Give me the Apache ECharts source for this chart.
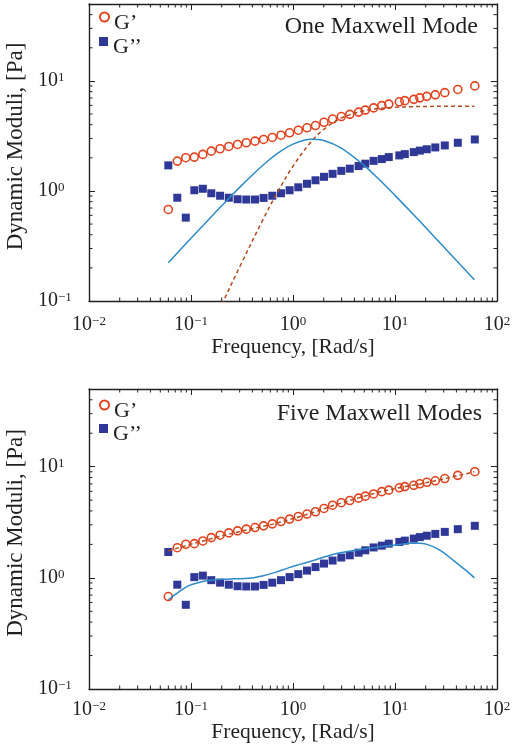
<!DOCTYPE html>
<html>
<head>
<meta charset="utf-8">
<script src="https://cdn.jsdelivr.net/npm/echarts@6/dist/echarts.min.js"></script>
<style>
  html, body { margin: 0; padding: 0; background: #ffffff; }
  #chart { width: 525px; height: 747px; }
</style>
</head>
<body>
<div id="chart"></div>
<script>
// Oscillatory frequency sweep, angular frequency in rad/s
const freq = [0.0599, 0.0734, 0.0889, 0.1078, 0.1306, 0.1581, 0.1929, 0.2348, 0.2863, 0.3485,
  0.4242, 0.515, 0.6266, 0.7629, 0.9262, 1.127, 1.372, 1.662, 2.013, 2.444,
  2.975, 3.605, 4.397, 5.114, 6.17, 7.42, 8.69, 11.02, 12.48, 15.29,
  17.51, 20.5, 24.84, 30.77, 41.28, 60.6];

// Storage modulus G' [Pa]
const storageModulus = [0.679, 1.868, 2.006, 2.031, 2.148, 2.301, 2.419, 2.538, 2.646, 2.742,
  2.835, 2.937, 3.062, 3.212, 3.377, 3.565, 3.748, 3.932, 4.211, 4.502,
  4.743, 4.966, 5.210, 5.431, 5.685, 5.965, 6.154, 6.457, 6.620, 6.801,
  7.017, 7.240, 7.470, 7.820, 8.360, 9.012];

// Loss modulus G'' [Pa]
const lossModulus = [1.708, 0.868, 0.572, 1.015, 1.047, 0.953, 0.905, 0.868, 0.841, 0.836,
  0.836, 0.864, 0.905, 0.953, 1.015, 1.080, 1.162, 1.250, 1.344, 1.431,
  1.523, 1.595, 1.684, 1.770, 1.877, 1.948, 2.031, 2.104, 2.162, 2.254,
  2.326, 2.394, 2.486, 2.592, 2.742, 2.937];

// Single Maxwell mode fit
const oneModeFreq = [0.06, 0.1, 0.15, 0.2, 0.3, 0.5, 0.7, 1, 1.5, 2, 3, 5, 7, 10, 15, 20, 30, 40, 60];
const oneModeGp = [0.0085, 0.0234, 0.0524, 0.0925, 0.204, 0.534, 0.963, 1.680, 2.788, 3.624,
  4.613, 5.361, 5.612, 5.755, 5.835, 5.863, 5.884, 5.891, 5.896];
const oneModeGpp = [0.223, 0.371, 0.554, 0.733, 1.078, 1.693, 2.181, 2.663, 2.946, 2.872,
  2.437, 1.699, 1.271, 0.912, 0.617, 0.465, 0.311, 0.233, 0.156];

// Five Maxwell mode fit
const fiveModeFreq = [0.06, 0.075, 0.095, 0.12, 0.15, 0.2, 0.27, 0.37, 0.5, 0.67, 0.9, 1.22, 1.65,
  2.07, 2.9, 4.6, 7.2, 11.3, 14, 17.7, 22, 28, 37.6, 50, 60];
const fiveModeGp = [1.75, 1.86, 1.98, 2.1, 2.22, 2.38, 2.55, 2.72, 2.9, 3.08, 3.32, 3.6, 3.93,
  4.22, 4.68, 5.3, 5.95, 6.5, 6.75, 7.0, 7.3, 7.65, 8.15, 8.65, 9.0];
const fiveModeGpp = [0.635, 0.74, 0.85, 0.91, 0.945, 0.97, 0.98, 0.99, 1.04, 1.12, 1.23, 1.335, 1.45,
  1.55, 1.68, 1.8, 1.9, 2.0, 2.05, 2.05, 1.96, 1.76, 1.43, 1.16, 1.0];

const panelTitles = ['One Maxwell Mode', 'Five Maxwell Modes'];
const seriesNames = ['G\u2019', 'G\u2019\u2019'];
const xAxisTitle = 'Frequency, [Rad/s]';
const yAxisTitle = 'Dynamic Moduli, [Pa]';

const FONT = "'Liberation Serif', 'Times New Roman', serif";
const INK = '#231f20';
const RED = '#e2431e';
const NAVY = '#2f3896';
const BLUE = '#2d8bc9';
const BROWN = '#b04b1f';

const X_MIN = 0.01, X_MAX = 100, Y_MIN = 0.1, Y_MAX = 50;

const zip = (xs, ys) => xs.map((x, i) => [x, ys[i]]);

// Powers of ten drawn as 10 with a raised exponent
function powLabel(v) {
  const e = Math.log10(v);
  const r = Math.round(e);
  if (Math.abs(e - r) > 1e-6) return '';
  return '{b|10}{s|' + (r < 0 ? '\u2212' + (-r) : String(r)) + '}';
}
const labelRich = {
  b: { fontFamily: FONT, fontSize: 20, color: INK, lineHeight: 20 },
  s: { fontFamily: FONT, fontSize: 13, color: INK, lineHeight: 11, verticalAlign: 'top' }
};

// Minor tick positions at 2..9 of each decade
const xMinor = [];
for (let d = -2; d < 2; d++) for (let k = 2; k <= 9; k++) xMinor.push(+(k * Math.pow(10, d)).toPrecision(3));
const yMinor = [];
for (let d = -1; d < 2; d++) for (let k = 2; k <= 9; k++) {
  const v = +(k * Math.pow(10, d)).toPrecision(3);
  if (v < Y_MAX) yMinor.push(v);
}

const panels = [
  { grid: { left: 89, top: 4, width: 408, height: 297 }, labelMargin: 14, nameGap: 35,
    fitFreq: oneModeFreq, fitGp: oneModeGp, fitGpp: oneModeGpp,
    title: { right: 47, top: 15 }, legendTops: [0, 24.5] },
  { grid: { left: 89, top: 389, width: 408, height: 300 }, labelMargin: 11, nameGap: 31,
    fitFreq: fiveModeFreq, fitGp: fiveModeGp, fitGpp: fiveModeGpp,
    title: { right: 43, top: 402 }, legendTops: [388, 411.5] }
];

const axisLineStyle = { show: true, lineStyle: { color: INK, width: 1.4 } };
const tickStyle = { show: true, inside: true, length: 6, lineStyle: { color: INK, width: 1 } };

const grid = [], xAxis = [], yAxis = [], series = [], title = [], legend = [];

panels.forEach((p, gi) => {
  grid.push(Object.assign({ outerBoundsMode: 'none', containLabel: false }, p.grid));

  const xBase = { type: 'log', logBase: 10, gridIndex: gi, min: X_MIN, max: X_MAX,
    axisLine: axisLineStyle, axisTick: tickStyle, splitLine: { show: false }, minorTick: { show: false } };
  xAxis.push(Object.assign({}, xBase, {
    position: 'bottom', name: xAxisTitle, nameLocation: 'middle', nameGap: p.nameGap,
    nameTextStyle: { fontFamily: FONT, fontSize: 21.5, color: INK },
    axisLabel: { formatter: powLabel, rich: labelRich, margin: p.labelMargin, color: INK }
  }));
  xAxis.push(Object.assign({}, xBase, { position: 'top', axisLabel: { show: false } }));

  const yBase = { type: 'log', logBase: 10, gridIndex: gi, min: Y_MIN, max: Y_MAX,
    axisLine: axisLineStyle, axisTick: tickStyle, splitLine: { show: false }, minorTick: { show: false } };
  yAxis.push(Object.assign({}, yBase, {
    position: 'left', name: yAxisTitle, nameLocation: 'middle', nameGap: 54,
    nameTextStyle: { fontFamily: FONT, fontSize: 23, color: INK, padding: [0, 0, 0, 12] },
    axisLabel: { formatter: powLabel, rich: labelRich, margin: 51, align: 'left', color: INK }
  }));
  yAxis.push(Object.assign({}, yBase, { position: 'right', axisLabel: { show: false } }));

  const xi = 2 * gi, yi = 2 * gi;

  // minor ticks on all four sides
  series.push({
    type: 'custom', xAxisIndex: xi, yAxisIndex: yi, silent: true, clip: false, z: 6,
    data: xMinor.map(v => [v, 1]),
    renderItem(params, api) {
      const v = api.value(0);
      const a = api.coord([v, Y_MIN]);
      const b = api.coord([v, Y_MAX]);
      return { type: 'group', children: [
        { type: 'line', shape: { x1: a[0], y1: a[1], x2: a[0], y2: a[1] - 3.5 }, style: { stroke: INK, lineWidth: 1 } },
        { type: 'line', shape: { x1: b[0], y1: b[1], x2: b[0], y2: b[1] + 3.5 }, style: { stroke: INK, lineWidth: 1 } }
      ] };
    }
  });
  series.push({
    type: 'custom', xAxisIndex: xi, yAxisIndex: yi, silent: true, clip: false, z: 6,
    data: yMinor.map(v => [1, v]),
    renderItem(params, api) {
      const v = api.value(1);
      const a = api.coord([X_MIN, v]);
      const b = api.coord([X_MAX, v]);
      return { type: 'group', children: [
        { type: 'line', shape: { x1: a[0], y1: a[1], x2: a[0] + 3.5, y2: a[1] }, style: { stroke: INK, lineWidth: 1 } },
        { type: 'line', shape: { x1: b[0], y1: b[1], x2: b[0] - 3.5, y2: b[1] }, style: { stroke: INK, lineWidth: 1 } }
      ] };
    }
  });

  // measured moduli
  series.push({
    type: 'scatter', name: seriesNames[0], xAxisIndex: xi, yAxisIndex: yi, z: 3,
    data: zip(freq, storageModulus), symbol: 'circle', symbolSize: 8,
    itemStyle: { color: 'rgba(255,255,255,0)', borderColor: RED, borderWidth: 1.6, opacity: 1 }
  });
  series.push({
    type: 'scatter', name: seriesNames[1], xAxisIndex: xi, yAxisIndex: yi, z: 3,
    data: zip(freq, lossModulus), symbol: 'rect', symbolSize: 8,
    itemStyle: { color: NAVY, opacity: 1 }
  });

  // Maxwell model curves
  series.push({
    type: 'line', name: 'fitGp' + gi, xAxisIndex: xi, yAxisIndex: yi, z: 4, silent: true,
    data: zip(p.fitFreq, p.fitGp), symbol: 'none', smooth: 0.35, clip: true,
    lineStyle: { color: BROWN, width: 1.5, type: [4, 3] }
  });
  series.push({
    type: 'line', name: 'fitGpp' + gi, xAxisIndex: xi, yAxisIndex: yi, z: 4, silent: true,
    data: zip(p.fitFreq, p.fitGpp), symbol: 'none', smooth: 0.35, clip: true,
    lineStyle: { color: BLUE, width: 1.5 }
  });

  title.push(Object.assign({
    text: panelTitles[gi], padding: 0,
    textStyle: { fontFamily: FONT, fontSize: 24, fontWeight: 'normal', color: INK }
  }, p.title));

  seriesNames.forEach((nm, k) => {
    legend.push({
      data: [nm], left: 99, top: p.legendTops[k], orient: 'vertical', padding: 0,
      itemWidth: 9, itemHeight: 9, itemGap: 0, selectedMode: false,
      formatter: '{t|{name}}',
      textStyle: { color: INK, rich: { t: { fontFamily: FONT, fontSize: 22, color: INK, lineHeight: 22, padding: [12, 0, 0, 0] } } }
    });
  });
});

const chart = echarts.init(document.getElementById('chart'), null, { renderer: 'canvas' });
chart.setOption({
  backgroundColor: '#ffffff',
  animation: false,
  title, legend, grid, xAxis, yAxis, series
});
</script>
</body>
</html>
